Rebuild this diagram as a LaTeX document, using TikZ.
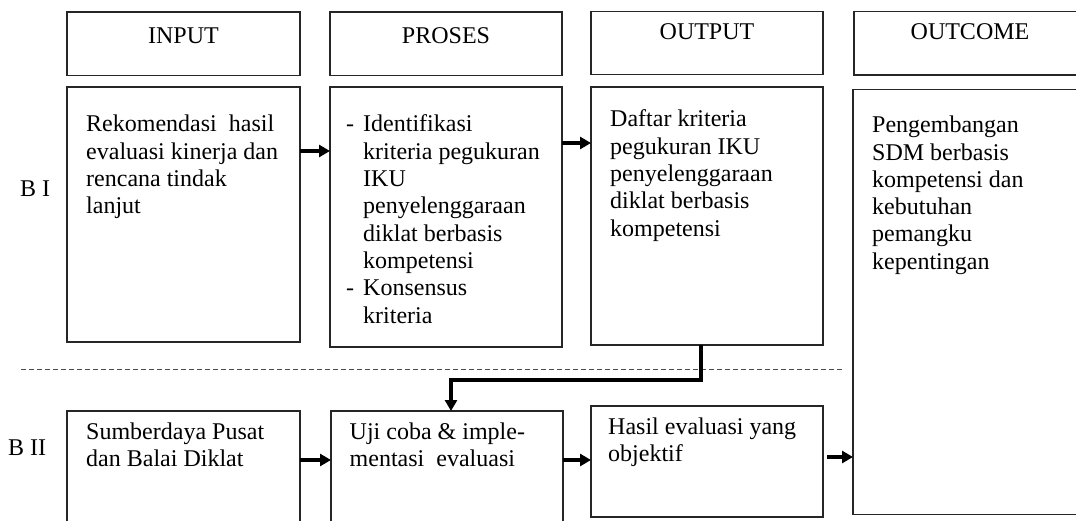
\documentclass[tikz,border=0pt]{standalone}
\usepackage{fontspec}
\setmainfont{Liberation Serif}
\usetikzlibrary{arrows.meta}

\tikzset{
  box/.style={rectangle, draw=black!85, line width=1.1pt, anchor=north west, inner sep=0pt, outer sep=0pt},
  lbl/.style={anchor=base, inner sep=0pt, font=\fontsize{24}{27.3}\selectfont},
  txt/.style={anchor=north west, yshift=19.11pt, align=left, inner sep=0pt,
    font=\fontsize{24}{27.3}\selectfont, execute at begin node=\strut},
  arr/.style={line width=3.5pt, -{Triangle[length=11pt,width=12pt]}},
}

\begin{document}
\begin{tikzpicture}[x=1pt, y=-1pt]
      \clip (0,0) rectangle (1076,521);
      \fill[white] (0,0) rectangle (1076,521);

      % Header boxes
      \node (hIn) at (67,12) [box, minimum width=233pt, minimum height=63.5pt] {};
      \node (hPro) at (330,12) [box, minimum width=232pt, minimum height=63.5pt] {};
      \node (hOut) at (591,11.5) [box, minimum width=232pt, minimum height=63pt] {};
      \node (hOc) at (854,11.5) [box, minimum width=232pt, minimum height=63.5pt] {};

      \node (tIn) at (hIn.north |- 0,43.3) [lbl] {INPUT};
      \node (tPro) at (hPro.north |- 0,43.3) [lbl] {PROSES};
      \node (tOut) at (hOut.north |- 0,40) [lbl] {OUTPUT};
      \node (tOc) at (hOc.north |- 0,40) [lbl] {OUTCOME};

      % Row labels
      \node (rowI) at (35,197) [lbl] {B I};
      \node (rowII) at (27,455) [lbl] {B II};

      % Boxes B I
      \node (bIn) at (67,87) [box, minimum width=233pt, minimum height=255pt] {};
      \node (bPro) at (330,87) [box, minimum width=232pt, minimum height=260pt] {};
      \node (bOut) at (591,87) [box, minimum width=232pt, minimum height=258pt] {};
      \node (bOc) at (853,89.3) [box, minimum width=240pt, minimum height=425pt] {};

      \node (xIn) at (86,134) [txt] {Rekomendasi\ \ hasil\\evaluasi kinerja dan\\rencana tindak\\lanjut};
      \node (xPro) at (346,134) [txt] {\makebox[17pt][l]{-}Identifikasi\\
        \hspace*{17pt}kriteria pegukuran\\
        \hspace*{17pt}IKU\\
        \hspace*{17pt}penyelenggaraan\\
        \hspace*{17pt}diklat berbasis\\
        \hspace*{17pt}kompetensi\\
        \makebox[17pt][l]{-}Konsensus\\
        \hspace*{17pt}kriteria};
      \node (xOut) at (610,129) [txt] {Daftar kriteria\\pegukuran IKU\\penyelenggaraan\\diklat berbasis\\kompetensi};
      \node (xOc) at (872,135) [txt] {Pengembangan\\SDM berbasis\\kompetensi dan\\kebutuhan\\pemangku\\kepentingan};

      % Boxes B II
      \node (cIn) at (67,411) [box, minimum width=233pt, minimum height=130pt] {};
      \node (cPro) at (331,411) [box, minimum width=232pt, minimum height=130pt] {};
      \node (cOut) at (591,406) [box, minimum width=232pt, minimum height=111pt] {};

      \node (yIn) at (86,441.7) [txt] {Sumberdaya Pusat\\dan Balai Diklat};
      \node (yPro) at (349.5,441.7) [txt] {Uji coba \& imple-\\mentasi\ \ evaluasi};
      \node (yOut) at (608,436.7) [txt] {Hasil evaluasi yang\\objektif};

      % Divider
      \coordinate (divL) at (21,369);
      \coordinate (divR) at (842,369);
      \draw[black!70, line width=0.9pt, dash pattern=on 5pt off 3pt] (divL) -- (divR);

      % Edges
      \draw[arr] (bIn.east |- 0,151) -- (bPro.west |- 0,151);
      \draw[arr] (bPro.east |- 0,143) -- (bOut.west |- 0,143);
      \draw[arr] (cIn.east |- 0,460) -- (cPro.west |- 0,460);
      \draw[arr] (cPro.east |- 0,460) -- (cOut.west |- 0,460);
      \draw[arr] ([xshift=4pt]cOut.east |- 0,457) -- (bOc.west |- 0,457);

      \coordinate (turn) at (451,380);
      \draw[arr] (bOut.south -| 701,0) |- (turn) -- (cPro.north -| turn);
  \end{tikzpicture}
\end{document}
